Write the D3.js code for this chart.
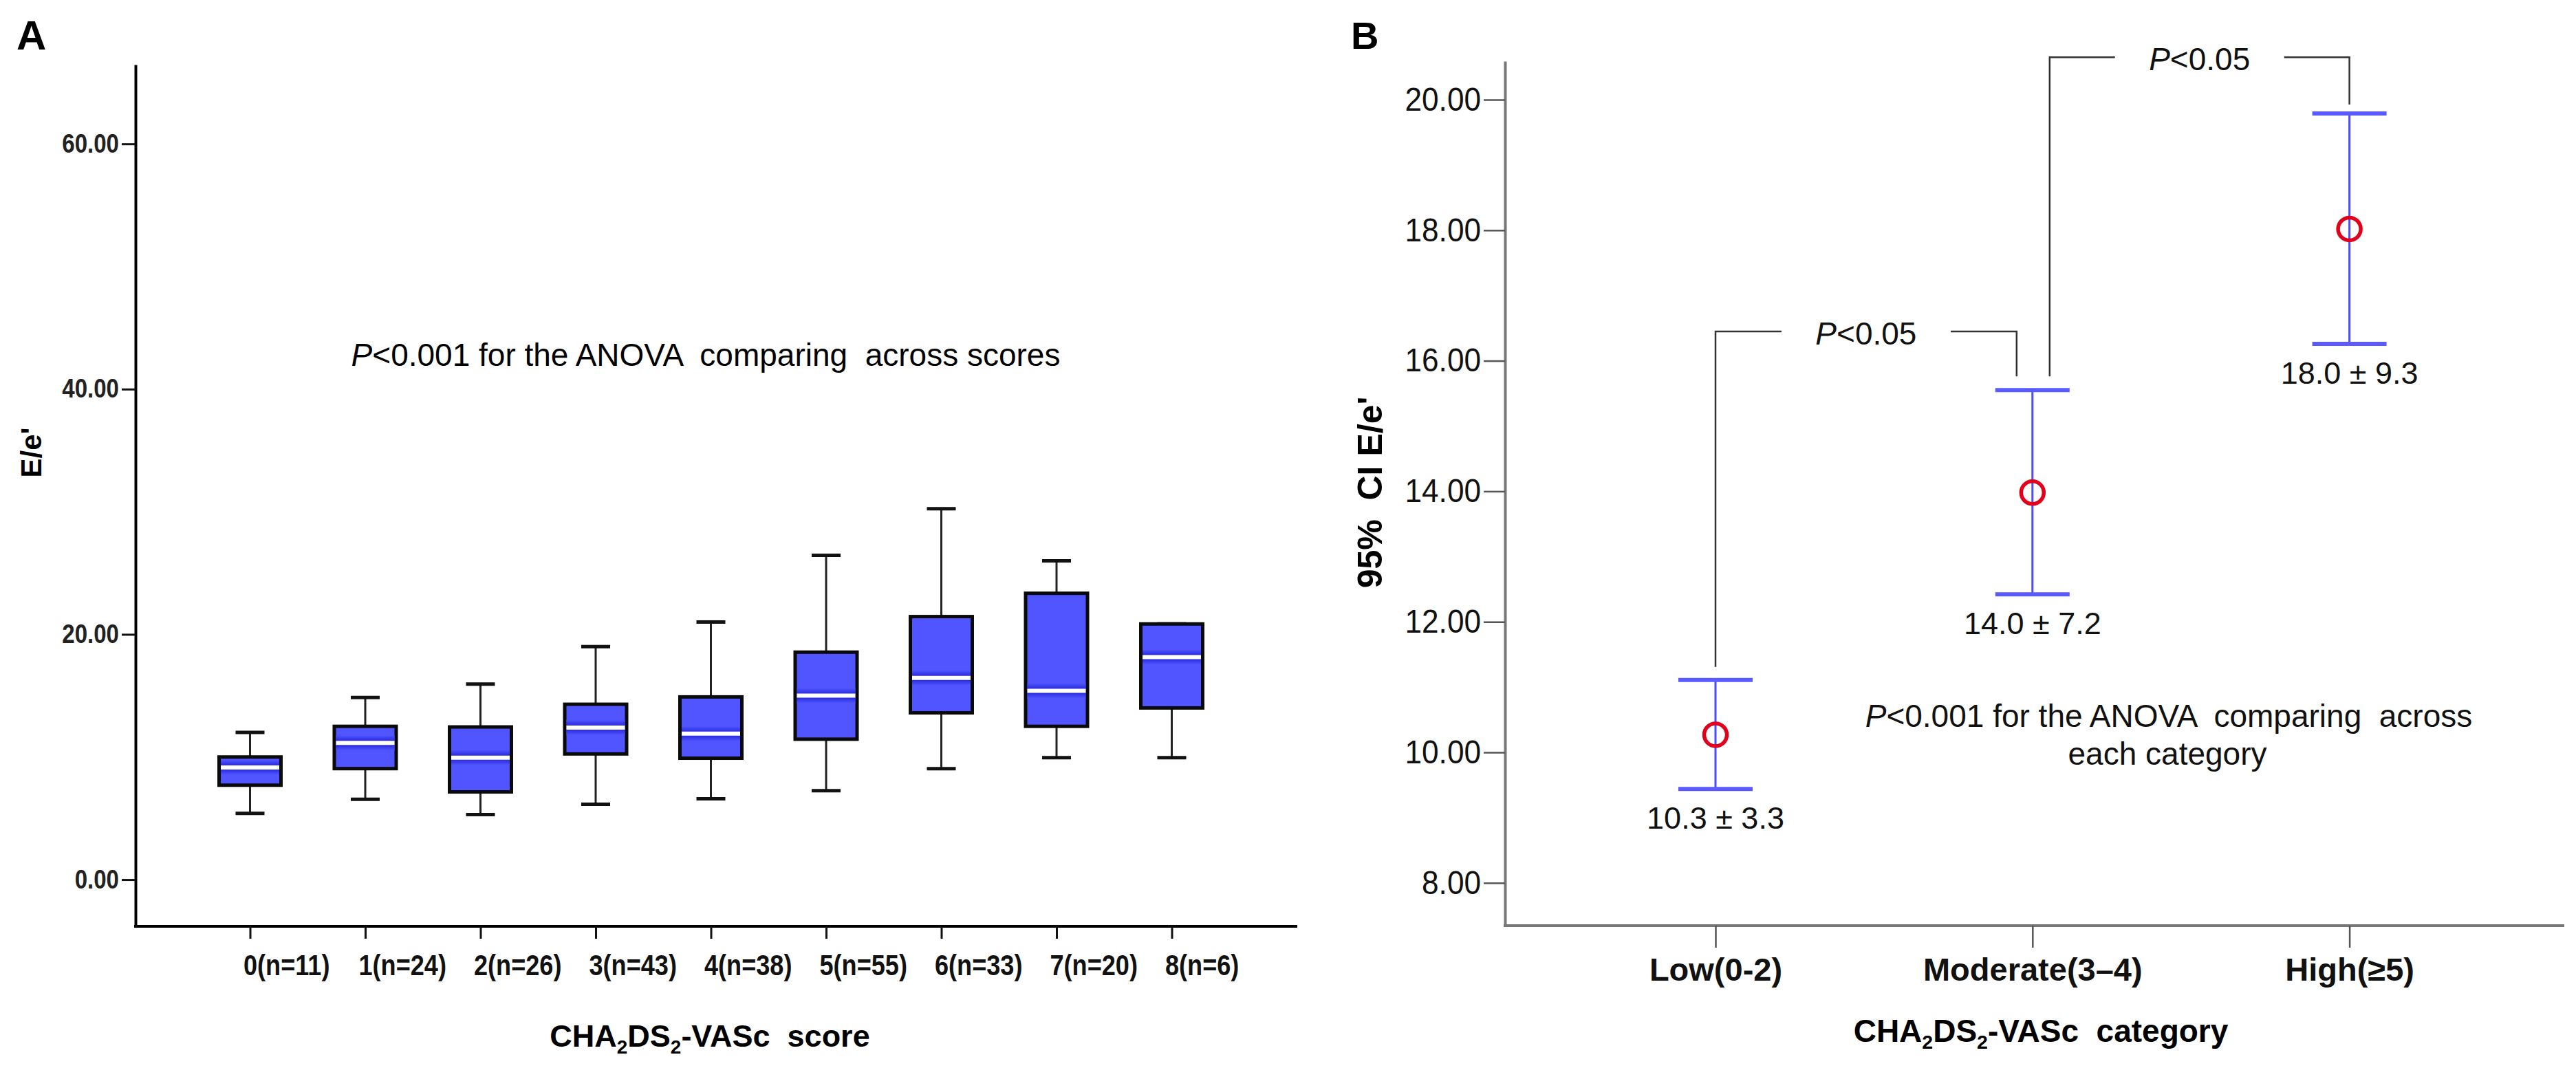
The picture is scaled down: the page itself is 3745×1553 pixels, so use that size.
<!DOCTYPE html>
<html>
<head>
<meta charset="utf-8">
<script src="https://cdn.jsdelivr.net/npm/d3@7"></script>
<style>
body { margin: 0; background: #fff; }
text { font-family: "Liberation Sans", Arial, sans-serif; }
</style>
</head>
<body>
<div id="chart"></div>
<script>
// panel A: E/e' box plot per CHA2DS2-VASc score
var scores = ["0", "1", "2", "3", "4", "5", "6", "7", "8"];
var counts = [11, 24, 26, 43, 38, 55, 33, 20, 6];
var whiskLow = [5.4, 6.55, 5.3, 6.15, 6.6, 7.25, 9.05, 9.95, 9.95];
var q1 = [7.7, 9.05, 7.15, 10.25, 9.9, 11.45, 13.6, 12.5, 14.0];
var medians = [9.15, 11.15, 9.95, 12.4, 11.9, 15.0, 16.45, 15.4, 18.15];
var q3 = [10.0, 12.5, 12.45, 14.3, 14.9, 18.55, 21.45, 23.35, 20.85];
var whiskHigh = [12.0, 14.85, 15.95, 19.0, 21.0, 26.45, 30.25, 26.0, 20.85];
var yTicksA = [0, 20, 40, 60];

// panel B: mean E/e' with 95% CI per category
var categories = ["Low(0-2)", "Moderate(3–4)", "High(≥5)"];
var means = [10.27, 13.98, 18.02];
var ciLow = [9.44, 12.42, 16.26];
var ciHigh = [11.11, 15.55, 19.79];
var meanSd = ["10.3 ± 3.3", "14.0 ± 7.2", "18.0 ± 9.3"];
var yTicksB = [8, 10, 12, 14, 16, 18, 20];

var W = 3745, H = 1553;

var svg = d3.select("#chart").append("svg")
    .attr("width", W)
    .attr("height", H)
    .style("display", "block");
svg.append("rect").attr("width", W).attr("height", H).attr("fill", "#fff");

// squeeze text horizontally (narrow typeface look)
function squeeze(sel, k) {
    sel.each(function () {
        var L = this.getComputedTextLength();
        d3.select(this).attr("textLength", L * k).attr("lengthAdjust", "spacingAndGlyphs");
    });
}

// CHA2DS2-VASc title with subscripts
function chadsTitle(g, x, y, size, tail) {
    var t = g.append("text")
        .attr("x", x).attr("y", y)
        .attr("text-anchor", "middle")
        .style("font-size", size + "px")
        .style("font-weight", "bold")
        .style("white-space", "pre");
    t.append("tspan").text("CHA");
    t.append("tspan").attr("dy", 10).style("font-size", (size * 0.62) + "px").text("2");
    t.append("tspan").attr("dy", -10).text("DS");
    t.append("tspan").attr("dy", 10).style("font-size", (size * 0.62) + "px").text("2");
    t.append("tspan").attr("dy", -10).text(tail);
    return t;
}

// ---------------- Panel A ----------------
var gA = svg.append("g");

var yA = d3.scaleLinear().domain([-3.81, 66.46]).range([1347, 94]);
var xA = d3.scalePoint().domain(scores).range([363.5, 1703.5]);

var defs = svg.append("defs");
var grad = defs.append("linearGradient")
    .attr("id", "medBand")
    .attr("x1", 0).attr("y1", 0).attr("x2", 0).attr("y2", 1);
grad.append("stop").attr("offset", "0%").attr("stop-color", "#5155ff");
grad.append("stop").attr("offset", "40%").attr("stop-color", "#2626dc");
grad.append("stop").attr("offset", "60%").attr("stop-color", "#2626dc");
grad.append("stop").attr("offset", "100%").attr("stop-color", "#5155ff");

var boxes = scores.map(function (s, i) {
    return {s: s, lo: whiskLow[i], q1: q1[i], med: medians[i], q3: q3[i], hi: whiskHigh[i]};
});

var bx = gA.selectAll(".box")
    .data(boxes)
    .enter()
    .append("g")
    .attr("class", "box")
    .attr("transform", function (d) { return "translate(" + xA(d.s) + ",0)"; });

// whiskers
bx.append("line")
    .attr("x1", 0).attr("x2", 0)
    .attr("y1", function (d) { return yA(d.lo); })
    .attr("y2", function (d) { return yA(d.hi); })
    .attr("stroke", "#222")
    .attr("stroke-width", 3);
bx.selectAll(".cap")
    .data(function (d) { return [d.lo, d.hi]; })
    .enter()
    .append("line")
    .attr("class", "cap")
    .attr("x1", -21).attr("x2", 21)
    .attr("y1", function (v) { return yA(v); })
    .attr("y2", function (v) { return yA(v); })
    .attr("stroke", "#111")
    .attr("stroke-width", 5);

// boxes
bx.append("rect")
    .attr("x", -45)
    .attr("width", 90)
    .attr("y", function (d) { return yA(d.q3); })
    .attr("height", function (d) { return yA(d.q1) - yA(d.q3); })
    .attr("fill", "#5155ff")
    .attr("stroke", "#0a0a0a")
    .attr("stroke-width", 5);

// median: dark band + white line
bx.append("rect")
    .attr("x", -42.5)
    .attr("width", 85)
    .attr("y", function (d) { return yA(d.med) - 11; })
    .attr("height", 22)
    .attr("fill", "url(#medBand)");
bx.append("line")
    .attr("x1", -42.5).attr("x2", 42.5)
    .attr("y1", function (d) { return yA(d.med); })
    .attr("y2", function (d) { return yA(d.med); })
    .attr("stroke", "#fff")
    .attr("stroke-width", 6);

// y axis
var axA = gA.append("g")
    .attr("transform", "translate(197,0)")
    .call(d3.axisLeft(yA).tickValues(yTicksA).tickFormat(d3.format(".2f"))
        .tickSize(20).tickPadding(4).tickSizeOuter(0));
axA.select(".domain").attr("stroke", "#000").attr("stroke-width", 4);
axA.selectAll(".tick line").attr("stroke", "#111").attr("stroke-width", 3);
axA.selectAll(".tick text")
    .attr("fill", "#222")
    .style("font-family", "'Liberation Sans', Arial, sans-serif")
    .style("font-size", "38px")
    .style("font-weight", "bold");
squeeze(axA.selectAll(".tick text"), 0.87);

// x axis
gA.append("line")
    .attr("x1", 195).attr("x2", 1886)
    .attr("y1", 1347).attr("y2", 1347)
    .attr("stroke", "#000")
    .attr("stroke-width", 4);
var axAx = gA.append("g")
    .attr("transform", "translate(0,1347)")
    .call(d3.axisBottom(xA).tickSize(18).tickSizeOuter(0)
        .tickFormat(function (d, i) { return d + "(n=" + counts[i] + ")"; }));
axAx.select(".domain").remove();
axAx.selectAll(".tick line").attr("stroke", "#111").attr("stroke-width", 3);
axAx.selectAll(".tick text")
    .attr("text-anchor", "start")
    .attr("x", -10)
    .attr("y", 71)
    .attr("dy", null)
    .attr("fill", "#111")
    .style("font-family", "'Liberation Sans', Arial, sans-serif")
    .style("font-size", "43px")
    .style("font-weight", "bold");
squeeze(axAx.selectAll(".tick text"), 0.84);

// y label
gA.append("text")
    .attr("transform", "translate(60,658) rotate(-90)")
    .attr("text-anchor", "middle")
    .style("font-size", "42px")
    .style("font-weight", "bold")
    .text("E/e'");

// x title
chadsTitle(gA, 1032, 1522, 45, "-VASc  score");

// ANOVA note
var noteA = gA.append("text")
    .attr("x", 1026).attr("y", 532)
    .attr("text-anchor", "middle")
    .style("font-size", "46px")
    .style("white-space", "pre");
noteA.append("tspan").style("font-style", "italic").text("P");
noteA.append("tspan").text("<0.001 for the ANOVA  comparing  across scores");

// panel letter
gA.append("text")
    .attr("x", 24).attr("y", 72)
    .style("font-size", "60px")
    .style("font-weight", "bold")
    .text("A");

// ---------------- Panel B ----------------
var gB = svg.append("g");

var yB = d3.scaleLinear().domain([7.345, 20.59]).range([1346, 89]);
var xB = d3.scalePoint().domain(categories).range([2494, 3415.6]);

// y axis
var axB = gB.append("g")
    .attr("transform", "translate(2188,0)")
    .call(d3.axisLeft(yB).tickValues(yTicksB).tickFormat(d3.format(".2f"))
        .tickSize(31).tickPadding(4).tickSizeOuter(0));
axB.select(".domain").attr("stroke", "#777").attr("stroke-width", 4);
axB.selectAll(".tick line").attr("stroke", "#555").attr("stroke-width", 2.5);
axB.selectAll(".tick text")
    .attr("fill", "#111")
    .style("font-family", "'Liberation Sans', Arial, sans-serif")
    .style("font-size", "48px");
squeeze(axB.selectAll(".tick text"), 0.92);

// x axis
gB.append("line")
    .attr("x1", 2186).attr("x2", 3728)
    .attr("y1", 1346).attr("y2", 1346)
    .attr("stroke", "#777")
    .attr("stroke-width", 4);
var axBx = gB.append("g")
    .attr("transform", "translate(0,1346)")
    .call(d3.axisBottom(xB).tickSize(32).tickSizeOuter(0));
axBx.select(".domain").remove();
axBx.selectAll(".tick line").attr("stroke", "#555").attr("stroke-width", 2.5);
axBx.selectAll(".tick text")
    .attr("y", 80)
    .attr("dy", null)
    .attr("fill", "#111")
    .style("font-family", "'Liberation Sans', Arial, sans-serif")
    .style("font-size", "47px")
    .style("font-weight", "bold");

// error bars
var pts = categories.map(function (c, i) {
    return {c: c, m: means[i], lo: ciLow[i], hi: ciHigh[i], lab: meanSd[i]};
});
var eb = gB.selectAll(".eb")
    .data(pts)
    .enter()
    .append("g")
    .attr("class", "eb")
    .attr("transform", function (d) { return "translate(" + xB(d.c) + ",0)"; });
eb.append("line")
    .attr("x1", 0).attr("x2", 0)
    .attr("y1", function (d) { return yB(d.lo); })
    .attr("y2", function (d) { return yB(d.hi); })
    .attr("stroke", "#4b4bff")
    .attr("stroke-width", 3);
eb.selectAll(".cap")
    .data(function (d) { return [d.lo, d.hi]; })
    .enter()
    .append("line")
    .attr("class", "cap")
    .attr("x1", -54).attr("x2", 54)
    .attr("y1", function (v) { return yB(v); })
    .attr("y2", function (v) { return yB(v); })
    .attr("stroke", "#5a5aff")
    .attr("stroke-width", 6);
eb.append("circle")
    .attr("cy", function (d) { return yB(d.m); })
    .attr("r", 16.5)
    .attr("fill", "none")
    .attr("stroke", "#e3001b")
    .attr("stroke-width", 5.5);
eb.append("text")
    .attr("y", function (d) { return yB(d.lo) + 58; })
    .attr("text-anchor", "middle")
    .style("font-size", "45px")
    .attr("fill", "#111")
    .text(function (d) { return d.lab; });

// pairwise comparison brackets
var brackets = [
    {x1: xB(categories[0]), y1: yB(ciHigh[0]) - 19, x2: xB(categories[1]) - 23, y2: yB(ciHigh[1]) - 20, top: yB(16.45)},
    {x1: xB(categories[1]) + 25, y1: yB(ciHigh[1]) - 20, x2: xB(categories[2]), y2: yB(ciHigh[2]) - 13, top: yB(20.65)}
];
var br = gB.selectAll(".br")
    .data(brackets)
    .enter()
    .append("g")
    .attr("class", "br");
br.append("path")
    .attr("d", function (d) {
        var cx = (d.x1 + d.x2) / 2;
        return "M" + d.x1 + "," + d.y1 + "V" + d.top + "H" + (cx - 123) +
            "M" + (cx + 123) + "," + d.top + "H" + d.x2 + "V" + d.y2;
    })
    .attr("fill", "none")
    .attr("stroke", "#333")
    .attr("stroke-width", 2.5);
var brt = br.append("text")
    .attr("x", function (d) { return (d.x1 + d.x2) / 2; })
    .attr("y", function (d) { return d.top + 19; })
    .attr("text-anchor", "middle")
    .style("font-size", "46px")
    .attr("fill", "#111");
brt.append("tspan").style("font-style", "italic").text("P");
brt.append("tspan").text("<0.05");

// ANOVA note
var noteB = gB.append("text")
    .attr("x", 3153).attr("y", 1057)
    .attr("text-anchor", "middle")
    .style("font-size", "46px")
    .style("white-space", "pre")
    .attr("fill", "#111");
noteB.append("tspan").style("font-style", "italic").text("P");
noteB.append("tspan").text("<0.001 for the ANOVA  comparing  across");
gB.append("text")
    .attr("x", 3151).attr("y", 1112)
    .attr("text-anchor", "middle")
    .style("font-size", "46px")
    .attr("fill", "#111")
    .text("each category");

// y label
gB.append("text")
    .attr("transform", "translate(2009,716) rotate(-90)")
    .attr("text-anchor", "middle")
    .style("font-size", "50px")
    .style("font-weight", "bold")
    .style("white-space", "pre")
    .text("95%  CI E/e'");

// x title
chadsTitle(gB, 2967, 1515, 46, "-VASc  category");

// panel letter
gB.append("text")
    .attr("x", 1964).attr("y", 71)
    .style("font-size", "56px")
    .style("font-weight", "bold")
    .text("B");
</script>
</body>
</html>
